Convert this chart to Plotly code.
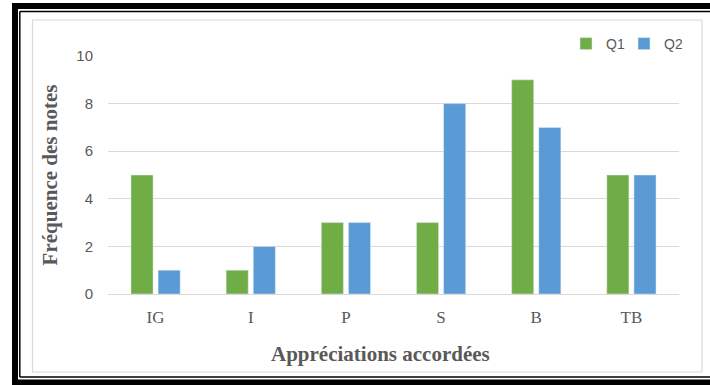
import plotly.graph_objects as go

categories = ["IG", "I", "P", "S", "B", "TB"]
q1_values = [5, 1, 3, 3, 9, 5]
q2_values = [1, 2, 3, 8, 7, 5]
y_ticks = [0, 2, 4, 6, 8, 10]

W, H = 710, 385
L, R, T, B = 108, 679, 56, 294
pw, ph = R - L, B - T


def px(x):
    return (x - L) / pw


def py(y):
    return (B - y) / ph


fig = go.Figure()
fig.add_trace(go.Bar(name="Q1", x=categories, y=q1_values, marker_color="#70AD47"))
fig.add_trace(go.Bar(name="Q2", x=categories, y=q2_values, marker_color="#5B9BD5"))

shapes = []
# light gray chart-area border
shapes.append(dict(type="rect", xref="paper", yref="paper",
                   x0=px(32.5), x1=px(702), y0=py(20), y1=py(372),
                   line=dict(color="#d9d9d9", width=1.2), layer="below"))
# thick black frame bands
for x0, x1, y0, y1 in [(12, 18, 3, 385), (12, 712, 3, 9), (12, 712, 379.5, 386)]:
    shapes.append(dict(type="rect", xref="paper", yref="paper",
                       x0=px(x0), x1=px(x1), y0=py(y1), y1=py(y0),
                       fillcolor="black", line=dict(width=0)))
# thin black frame lines
shapes.append(dict(type="line", xref="paper", yref="paper",
                   x0=px(19.8), x1=px(19.8), y0=py(11.6), y1=py(377),
                   line=dict(color="black", width=1.5)))
shapes.append(dict(type="line", xref="paper", yref="paper",
                   x0=px(19.8), x1=px(712), y0=py(11.6), y1=py(11.6),
                   line=dict(color="black", width=1.5)))
shapes.append(dict(type="line", xref="paper", yref="paper",
                   x0=px(19.8), x1=px(712), y0=py(377), y1=py(377),
                   line=dict(color="black", width=1.5)))

fig.update_layout(
    width=W, height=H,
    margin=dict(l=L, r=W - R, t=T, b=H - B, pad=0, autoexpand=False),
    paper_bgcolor="white", plot_bgcolor="white",
    barmode="group", bargap=0.43, bargroupgap=0.185,
    shapes=shapes,
    showlegend=True,
    legend=dict(orientation="h", x=px(566), xanchor="left", y=py(44), yanchor="middle",
                font=dict(family="Liberation Sans, Arial, sans-serif", size=14, color="#595959"),
                bgcolor="rgba(0,0,0,0)", itemwidth=30, entrywidth=13, entrywidthmode="pixels"),
    xaxis=dict(showgrid=False, showline=False, ticks="", ticklabelstandoff=11, automargin=False,
               tickfont=dict(family="Liberation Serif, Times New Roman, serif", size=17, color="#595959")),
    yaxis=dict(range=[0, 10], tickvals=y_ticks, showgrid=True, gridcolor="#d9d9d9", gridwidth=1,
               zeroline=True, zerolinecolor="#d9d9d9", zerolinewidth=1, showline=False,
               ticks="", ticklabelstandoff=14, automargin=False,
               tickfont=dict(family="Liberation Sans, Arial, sans-serif", size=15, color="#595959"),
               title=dict(text="Fréquence des notes", standoff=12,
                          font=dict(family="Liberation Serif, Times New Roman, serif", size=21,
                                    color="#595959", weight="bold"))),
    annotations=[dict(text="Appréciations accordées", xref="paper", yref="paper",
                      x=px(380), y=py(354), xanchor="center", yanchor="middle", showarrow=False,
                      font=dict(family="Liberation Serif, Times New Roman, serif", size=21,
                                color="#595959", weight="bold"))],
)

fig.write_html("out.html", config={"displayModeBar": False},
               post_script="document.body.style.margin='0';document.body.style.overflow='hidden';")
